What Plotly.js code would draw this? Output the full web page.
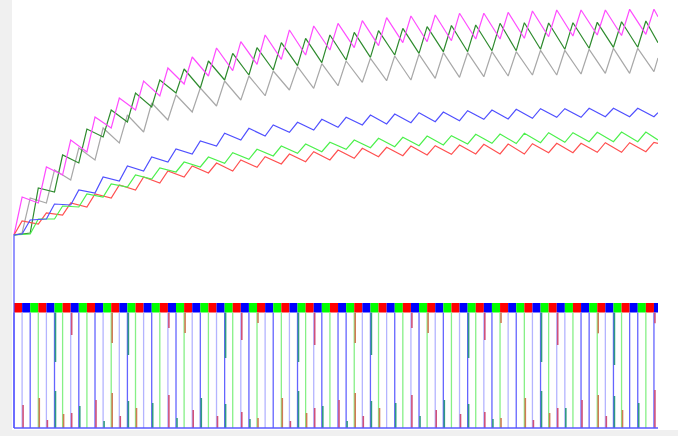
<!DOCTYPE html>
<html><head><meta charset="utf-8">
<script src="https://cdn.plot.ly/plotly-3.0.1.min.js"></script>
<style>html,body{margin:0;padding:0;background:#f0f0f0}#chart{width:678px;height:436px}</style>
</head><body><div id="chart"></div>
<script>
// ---- data (value units: 0 = baseline) ----
const END_T = 79.5;
// upper sawtooth lines: troughs / peaks per cycle
const magentaTroughs = [193,225,253,276,300,318,332,344,352,357.3,363.7,368.7,373,378,380.3,382.3,385.3,386.3,387.3,389,389,389.7,391.3,392,393,392.5,393.7];
const magentaPeaks   = [231,261,288,311,330,347,360,371,380,386.3,393,398,402,404.7,407.3,410.3,412,413,414.7,414.7,415.7,417,418,418,418,418.7,418.7];
const magentaEnd = 411.3;
const dkgreenTroughs = [195,236,265,291,306,321,335,340,348,353,358,362.3,365.3,368,370.7,373,374.7,376.3,376.3,377.3,377.3,378.7,378.7,379.7,380.7,380.7];
const dkgreenPeaks   = [240,273,299,318,335,348,359,367,374.7,380.3,385.3,389.7,393,395.7,397.3,399.7,401.3,402.5,403,404.7,405.3,405,405.3,405.7,406.3,407];
const dkgreenEnd = 385.3;
const grayTroughs = [195,225,248,268,285,296,308,316,322,328,332.3,338,339.7,342.3,345.7,347.3,348,349.7,350.7,351.3,352,353,353,354,354.7,354.7,356.3];
const grayPeaks   = [230,258,280,300,313,325,333,340,347,352,357,361.3,364.3,367,369.7,372,373.7,375.3,375.3,376.3,376.3,377.7,377.7,378.7,379.7,379.7];
const grayEnd = 370;
// lower sawtooth lines
const blueTroughs = [194,209,223,235,247,257,266,274,282,288,292,295.7,298,300.7,303,304,305.3,306.3,307.3,308.7,309,309.7,310.7,310.7,311.3,311.3,311.3];
const bluePeaks   = [208,224,238,251,262,271,279,287,294.7,299.7,303,305.7,308.7,310.7,313,314,315.3,316,317.3,318,318.7,319.3,319.3,319.7,319.7,319.7];
const blueEnd = 315.3;
const greenTroughs = [194,209,221,231,241,249,256,261,264.7,268.7,272,274.7,276.3,278.7,280.3,281.3,282.3,283,284,284.7,284.5,285.3,285.7,286.3,286.3,286.3];
const greenPeaks   = [209,222,234,244,253,260,266,271,275.3,278.7,282,284,285.7,288,289.7,290.7,292,292.3,293.7,294,294.7,295.3,295.3,295.7,296,296];
const greenEnd = 288;
const redTroughs = [193,204,213,221,230,238,245,251,255,257,260.7,264,266.3,268,269.7,271.3,272.3,273,273.7,274,274,274,275.3,275.3,275.7,275.7,276.3];
const redPeaks   = [207,215,225,234,243,251,257,262,265,268,271.3,274,276.3,278,279.7,280.7,282,282.3,283,283.7,284,284.3,284.7,284.7,285.3,285.3,285.7];
const redEnd = 284.7;
const startLevel = 193;

// phase band (one letter per block)
const phases = "RBGRBGRBGRBGRBGRBGRBGRBGRBGRBGRBGRBGRBGRBGRBGRBGRBGRBGRBGRBGRBGRBGRBGRBGRBGRBGRB";
// vertical pulse lines (block boundaries)
const greenLineT = [3,6,9,12,15,18,21,24,27,30,33,36,39,42,45,48,51,54,57,60,63,66,69,72,75,78];
const blueLineT  = [0,2,5,8,10,14,17,20,23,26,29,32,35,38,40,41,44,47,50,53,56,59,62,65,70,71,74,76,77,79];
const lightLineT = [1,4,7,11,13,16,19,22,25,28,31,34,37,43,46,49,52,55,58,61,64,67,68,73];
// short markers rising from the baseline
const lowMarkT = [1,3,4,5,6,7,8,10,11,12,13,14,15,17,19,20,22,23,25,26,28,29,30,33,34,35,36,37,38,40,41,42,43,44,45,47,49,50,52,53,55,56,58,59,60,63,64,65,66,67,68,70,72,73,74,75,77,79];
const lowMarkH = [23,30,8,37,14,15,22,28,7,35,12,27,20,25,33,10,18,30,12,24,16,9,10,30,7,37,15,20,22,28,7,35,12,27,20,25,33,12,18,28,14,24,16,9,10,30,8,37,15,20,20,28,33,12,32,18,25,38];
// short markers hanging below the band (lower end value)
const highMarkT = [5,7,12,14,19,21,26,28,30,35,37,42,44,49,51,56,58,60,65,67,72,74,79];
const highMarkV = [66,93,85,73,100,95,70,88,105,66,83,85,73,100,95,70,88,105,66,83,94.7,63,104.7];

// ---- build ----
const BAND_LO = 115.5, BAND_H = 9.5;
function saw(pre, firstT, troughs, peaks, endVal){
  const x = pre.map(p=>p[0]), y = pre.map(p=>p[1]);
  for (let i=0;i<troughs.length;i++){
    x.push(firstT+3*i); y.push(troughs[i]);
    if (i<peaks.length){ x.push(firstT+3*i+1); y.push(peaks[i]); }
  }
  x.push(END_T); y.push(endVal);
  return {x,y};
}
function lineTrace(d,color,w){return {type:'scatter',mode:'lines',x:d.x,y:d.y,line:{color:color,width:w||1.2},hoverinfo:'skip'};}
function vsegs(ts, lo, hi){
  const x=[],y=[];
  ts.forEach((t,i)=>{const a=Array.isArray(lo)?lo[i]:lo, b=Array.isArray(hi)?hi[i]:hi; x.push(t,t,null); y.push(a,b,null);});
  return {x,y};
}
const traces = [];
// vertical pulse lines
traces.push(lineTrace(vsegs(lightLineT,0,BAND_LO),'#b4b4ff',1.3));
traces.push(lineTrace(vsegs(greenLineT,0,BAND_LO),'#86f086',1.3));
traces.push(lineTrace(vsegs(blueLineT,0,BAND_LO),'#6464ff',1.3));
// markers grouped by phase
const mcol = ['#d07a55','#d0507a','#2f9a82'];
for (let g=0; g<3; g++){
  const lt=[],lh=[],ht=[],hv=[];
  lowMarkT.forEach((t,i)=>{ if (t%3===g){lt.push(t+0.12); lh.push(lowMarkH[i]);} });
  highMarkT.forEach((t,i)=>{ if (t%3===g){ht.push(t+0.12); hv.push(highMarkV[i]);} });
  traces.push(lineTrace(vsegs(lt,0,lh),mcol[g],1.6));
  traces.push(lineTrace(vsegs(ht,BAND_LO,hv),mcol[g],1.6));
}
// baseline
traces.push(lineTrace({x:[0,END_T],y:[0,0]},'#5a5aff',1.5));
// band
const pc = {R:'#ff0000',B:'#0000ff',G:'#00ff00'};
traces.push({type:'bar',x:phases.split('').map((_,i)=>i+0.5),y:phases.split('').map(()=>BAND_H),base:BAND_LO,width:1,
  marker:{color:phases.split('').map(c=>pc[c]),line:{width:0}},hoverinfo:'skip'});
// sawtooth lines
traces.push(lineTrace(saw([[0,startLevel]],1,grayTroughs,grayPeaks,grayEnd),'#a8a8a8'));
traces.push(lineTrace(saw([[0,startLevel]],2,dkgreenTroughs,dkgreenPeaks,dkgreenEnd),'#2e8b2e'));
traces.push(lineTrace(saw([],0,magentaTroughs,magentaPeaks,magentaEnd),'#ff4cff'));
traces.push(lineTrace(saw([],0,redTroughs,redPeaks,redEnd),'#ff5050'));
traces.push(lineTrace(saw([[0,startLevel]],2,greenTroughs,greenPeaks,greenEnd),'#4cf04c'));
traces.push(lineTrace(saw([[0,0],[0,startLevel]],1,blueTroughs,bluePeaks,blueEnd),'#5050ff'));

const layout = {
  width:678,height:436,margin:{l:12,r:20,t:0,b:6,pad:0},
  paper_bgcolor:'#f0f0f0',plot_bgcolor:'#ffffff',showlegend:false,
  xaxis:{range:[-0.247,END_T],visible:false,showgrid:false,zeroline:false,fixedrange:true},
  yaxis:{range:[-2,428],visible:false,showgrid:false,zeroline:false,fixedrange:true},
  shapes:[{type:'rect',xref:'paper',yref:'paper',x0:1,x1:1+20/646,y0:0,y1:1,fillcolor:'#ffffff',line:{width:0},layer:'below'}]
};
Plotly.newPlot('chart',traces,layout,{staticPlot:true,displayModeBar:false});
</script></body></html>
